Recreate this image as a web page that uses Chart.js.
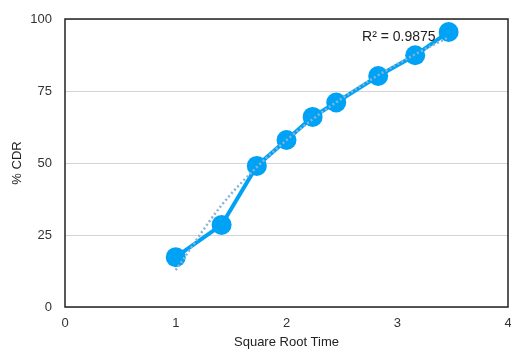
<!DOCTYPE html>
<html>
<head>
<meta charset="utf-8">
<script src="https://cdn.jsdelivr.net/npm/chart.js@4"></script>
<style>
  html, body { margin: 0; padding: 0; background: #fff; }
  #wrap { width: 511px; height: 350px; }
</style>
</head>
<body>
<div id="wrap"><canvas id="chart" width="511" height="350"></canvas></div>
<script>
// values
const sqrtTime = [1, 1.414, 1.732, 2, 2.236, 2.449, 2.828, 3.162, 3.464];
const cdr = [17.3, 28.5, 49, 58, 66, 71, 80.2, 87.4, 95.5];
const xTicks = [0, 1, 2, 3, 4];
const yTicks = [0, 25, 50, 75, 100];
const rSquaredLabel = 'R² = 0.9875';

// logarithmic trendline fitted to the data (least squares on ln x)
const lnX = sqrtTime.map(v => Math.log(v));
const mx = lnX.reduce((a, b) => a + b, 0) / lnX.length;
const my = cdr.reduce((a, b) => a + b, 0) / cdr.length;
let sxy = 0, sxx = 0;
lnX.forEach((v, i) => { sxy += (v - mx) * (cdr[i] - my); sxx += (v - mx) * (v - mx); });
const slope = sxy / sxx;
const intercept = my - slope * mx;
const trend = sqrtTime.map(x => ({ x: x, y: intercept + slope * Math.log(x) }));

const points = sqrtTime.map((x, i) => ({ x: x, y: cdr[i] }));

// box around the plot area + R² label next to the last point
const frame = {
  id: 'frame',
  afterDraw(chart) {
    const { ctx, chartArea: a, scales } = chart;
    ctx.save();
    ctx.strokeStyle = '#222';
    ctx.lineWidth = 1.5;
    ctx.strokeRect(a.left, a.top, a.right - a.left, a.bottom - a.top);
    const last = points[points.length - 1];
    ctx.fillStyle = '#222';
    ctx.font = '14px "Liberation Sans", Arial, sans-serif';
    ctx.textAlign = 'right';
    ctx.textBaseline = 'middle';
    ctx.fillText(rSquaredLabel, scales.x.getPixelForValue(last.x) - 13, scales.y.getPixelForValue(last.y) + 5);
    ctx.restore();
  }
};

const font = { family: '"Liberation Sans", Arial, sans-serif', size: 13 };

new Chart(document.getElementById('chart'), {
  type: 'scatter',
  data: {
    datasets: [
      {
        label: 'Trend',
        data: trend,
        showLine: true,
        order: 0,
        borderColor: '#86b4d8',
        borderWidth: 2.5,
        borderDash: [2, 2.5],
        pointRadius: 0,
        cubicInterpolationMode: 'monotone'
      },
      {
        label: '% CDR',
        data: points,
        showLine: true,
        order: 1,
        borderColor: '#00a2f5',
        backgroundColor: '#00a2f5',
        borderWidth: 4,
        pointRadius: 10,
        pointBorderWidth: 0
      }
    ]
  },
  options: {
    responsive: false,
    animation: false,
    layout: { autoPadding: false, padding: { top: 19, right: 3, left: 0, bottom: 0 } },
    plugins: { legend: { display: false }, tooltip: { enabled: false } },
    scales: {
      x: {
        type: 'linear',
        min: xTicks[0],
        max: xTicks[xTicks.length - 1],
        afterBuildTicks: s => { s.ticks = xTicks.map(v => ({ value: v })); },
        afterFit: s => { s.height = 43; s.paddingLeft = 0; s.paddingRight = 0; },
        grid: { display: false, drawTicks: false },
        border: { display: false },
        ticks: { color: '#333', font: font, padding: 9, maxRotation: 0 },
        title: { display: true, text: 'Square Root Time', color: '#222', font: font, padding: { top: 2, bottom: 0 } }
      },
      y: {
        min: yTicks[0],
        max: yTicks[yTicks.length - 1],
        afterBuildTicks: s => { s.ticks = yTicks.map(v => ({ value: v })); },
        afterFit: s => { s.width = 65; s.paddingTop = 0; s.paddingBottom = 0; },
        grid: { color: '#d4d4d4', lineWidth: 1, drawTicks: false },
        border: { display: false },
        ticks: { color: '#333', font: font, padding: 13 },
        title: { display: true, text: '% CDR', color: '#222', font: font, padding: { top: 10, bottom: 0 } }
      }
    }
  },
  plugins: [frame]
});
</script>
</body>
</html>
